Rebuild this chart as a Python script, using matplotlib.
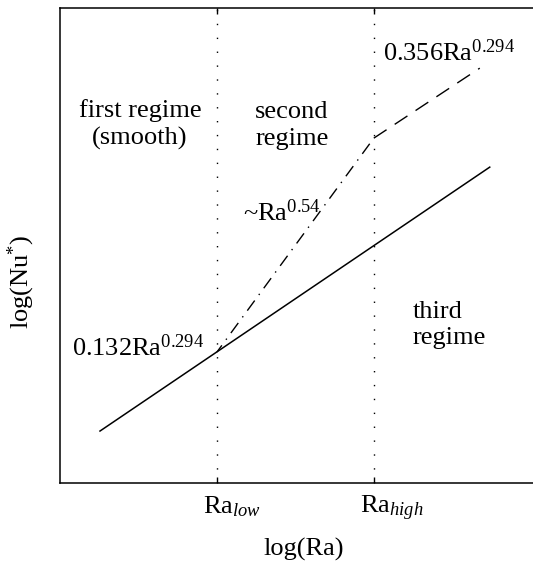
import matplotlib
matplotlib.use("Agg")
import matplotlib.pyplot as plt
from matplotlib.transforms import ScaledTranslation

plt.rcParams["font.family"] = ["Liberation Serif", "DejaVu Serif"]
plt.rcParams["mathtext.fontset"] = "custom"
plt.rcParams["mathtext.rm"] = "Liberation Serif"
plt.rcParams["mathtext.it"] = "Liberation Serif:italic"

# schematic values (log Ra, log Nu*)
ra_low = 1.57
ra_high = 3.14
smooth_x = [0.40, 4.30]
smooth_y = [0.52, 3.16]
transition_x = [ra_low, ra_high]
transition_y = [1.31, 3.45]
rough_x = [ra_high, 4.20]
rough_y = [3.45, 4.15]
tick_pos = [ra_low, ra_high]
tick_labels = ["Ra$_{low}$", "Ra$_{high}$"]

fig = plt.figure(figsize=(5.33, 5.68), dpi=100)
ax = fig.add_axes([0.1126, 0.1496, 0.90, 0.836])

ax.plot(smooth_x, smooth_y, color="black", lw=1.1)
ax.plot(transition_x, transition_y, color="black", lw=1.0,
        linestyle=(3, (9, 5, 1, 5)))
ax.plot(rough_x, rough_y, color="black", lw=1.0, linestyle=(0, (11, 7)))

for xv in tick_pos:
    ax.axvline(xv, color="black", lw=1.0, linestyle=(0, (1, 9)))

ax.set_xlim(0, 4.80)
ax.set_ylim(0, 4.75)
ax.spines["right"].set_visible(False)
for s in ["left", "bottom", "top"]:
    ax.spines[s].set_linewidth(1.1)

ax.set_yticks([])
ax.set_xticks(tick_pos)
ax.set_xticklabels(tick_labels, fontsize=19, ha="left")
ax.tick_params(axis="x", direction="in", length=4, width=1, top=True, pad=8)
for lab in ax.get_xticklabels():
    lab.set_transform(lab.get_transform() + ScaledTranslation(-0.14, 0, fig.dpi_scale_trans))

ax.set_xlabel("log(Ra)", fontsize=19)
ax.xaxis.set_label_coords(0.507, -0.116)
ax.set_ylabel("log(Nu$^{*}$)", fontsize=19)
ax.yaxis.set_label_coords(-0.047, 0.423)

txt = dict(fontsize=19, va="center")
ax.text(0.80, 3.59, "first regime\n(smooth)", ha="center", linespacing=1.28, **txt)
ax.text(2.32, 3.58, "second\nregime", ha="center", linespacing=1.28, **txt)
ax.text(3.53, 1.58, "third\nregime", ha="left", linespacing=1.28, **txt)
ax.text(3.23, 4.31, "0.356Ra$^{0.294}$", ha="left", **txt)
ax.text(1.83, 2.70, "~Ra$^{0.54}$", ha="left", **txt)
ax.text(0.12, 1.35, "0.132Ra$^{0.294}$", ha="left", **txt)

fig.savefig("out.png", dpi=100)
